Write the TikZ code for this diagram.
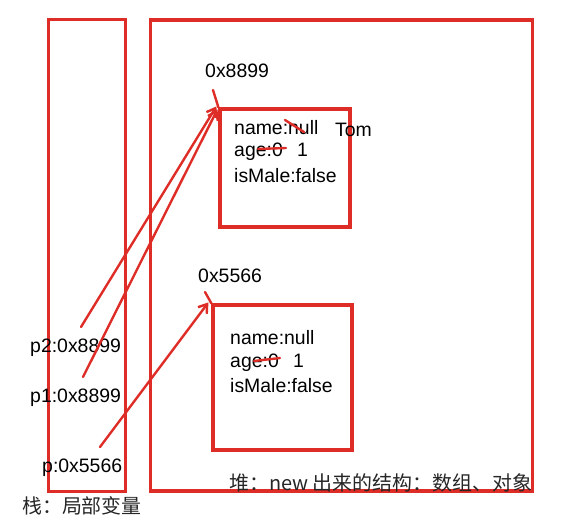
\documentclass[tikz,border=0pt]{standalone}
\usepackage{fontspec}
\setmainfont{Liberation Sans}
\newfontfamily\cjk{Noto Sans CJK SC}
\usetikzlibrary{arrows.meta}
\definecolor{pen}{RGB}{222,44,38}
\tikzset{
  frame/.style={draw=pen, line width=3.2pt, rectangle, inner sep=0pt},
  txt/.style={anchor=base west, inner sep=0pt, font=\fontsize{19.5}{22}\selectfont, text=black},
  cjktxt/.style={anchor=base west, inner sep=0pt, font=\fontsize{20}{23}\selectfont\cjk, text=black!85},
  ptr/.style={draw=pen, line width=2.4pt, line cap=round, -{Straight Barb[length=8pt,width=11pt,line width=2.4pt]}},
  strokeline/.style={draw=pen, line width=2.4pt, line cap=round},
}
\begin{document}
\begin{tikzpicture}[x=1bp, y=-1bp]
\useasboundingbox (0,0) rectangle (570,525);

% stack and heap areas
\node[frame, minimum width=77bp, minimum height=472bp] (stack) at (87,255.5) {};
\node[frame, minimum width=382bp, minimum height=471bp] (heap) at (341.5,255.5) {};

% objects in the heap
\node[frame, minimum width=130bp, minimum height=118bp] (obj1) at (285,168) {};
\node[frame, minimum width=139bp, minimum height=145bp] (obj2) at (282.5,377.5) {};

% object addresses
\node[txt] (addr1) at (205,78) {0x8899};
\node[txt] (addr2) at (198,282) {0x5566};
\coordinate (t1) at (213,90);
\coordinate (t2) at (205,292);
\draw[strokeline] (t1) -- (obj1.north west);
\draw[strokeline] (t2) -- (obj2.north west);

% fields of the first object
\node[txt] (n1) at (234,135) {name:null};
\node[txt] (a1) at (234,157) {age:0};
\node[txt] (v1) at (297,157) {1};
\node[txt] (m1) at (234,183) {isMale:false};
\node[txt] (tom) at (335,137) {Tom};
\draw[strokeline] (285,120) -- (304,132);
\draw[strokeline] (258,149) -- (286,148);

% fields of the second object
\node[txt] (n2) at (230,344) {name:null};
\node[txt] (a2) at (230,367) {age:0};
\node[txt] (v2) at (293,367) {1};
\node[txt] (m2) at (230,392) {isMale:false};
\draw[strokeline] (254,361) -- (280,358);

% local variables on the stack
\node[txt] (p2) at (30,352) {p2:0x8899};
\node[txt] (p1) at (30,402) {p1:0x8899};
\node[txt] (p0) at (42,472) {p:0x5566};
\coordinate (s2) at (81,327);
\coordinate (s1) at (83,377);
\coordinate (s0) at (100,447);

% references from the stack into the heap
\draw[ptr] (s2) -- ([xshift=-2bp,yshift=1bp]obj1.north west);
\draw[ptr] (s1) -- ([xshift=-1bp,yshift=-2bp]obj1.north west);
\draw[ptr] (s0) -- ([xshift=-3bp,yshift=1bp]obj2.north west);

% area captions
\node[cjktxt] (stacklbl) at (22,513) {栈：局部变量};
\node[cjktxt] (heaplbl) at (229,490) {堆：new 出来的结构：数组、对象};
\end{tikzpicture}
\end{document}
